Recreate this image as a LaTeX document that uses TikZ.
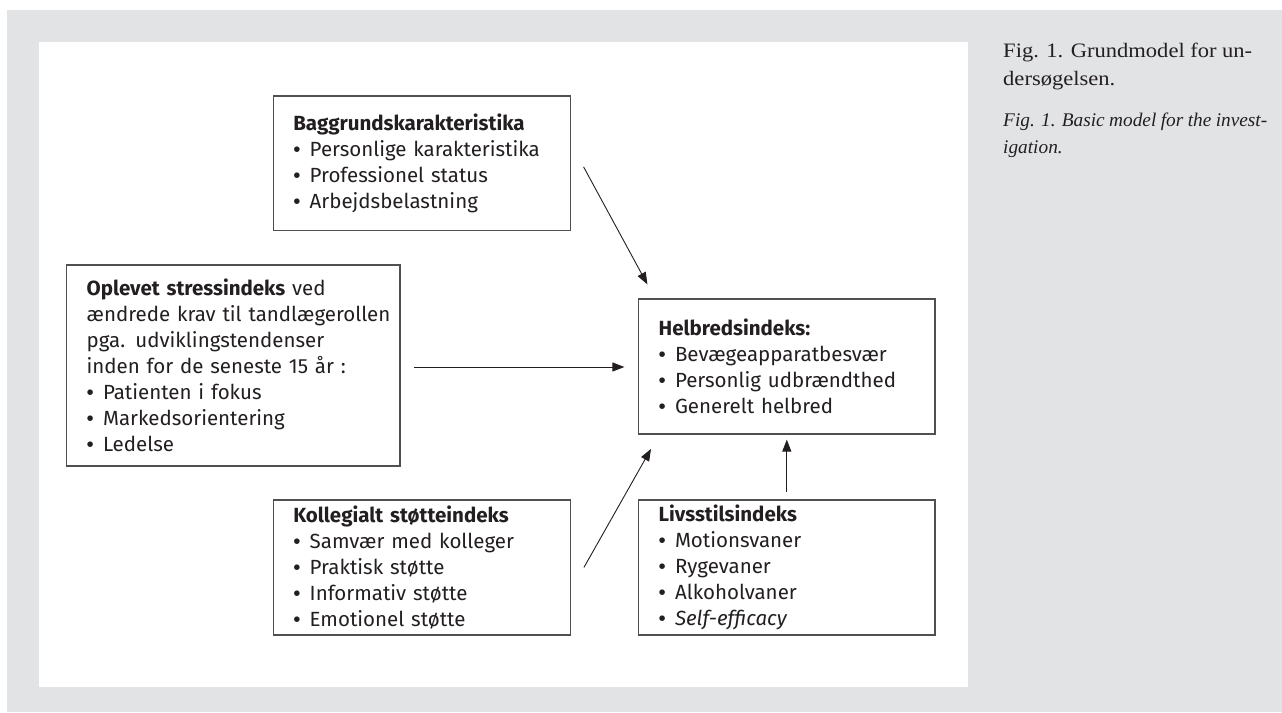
\documentclass[tikz,border=0pt]{standalone}
\usepackage{fontspec}
\setmainfont{Liberation Serif}
\newfontfamily\boxfont{Fira Sans}
\newfontfamily\bulletfont{Liberation Sans}
\newfontfamily\capfont{Liberation Serif}[FakeStretch=1.1]
\newfontfamily\capitfont{Liberation Serif}
\newcommand\mybul{{\bulletfont •}\hspace{0.45em}}
\usetikzlibrary{arrows.meta,calc}
\definecolor{bggray}{RGB}{226,227,229}
\definecolor{ink}{RGB}{35,31,32}
\definecolor{edgegray}{RGB}{80,80,80}
\begin{document}
\begin{tikzpicture}[x=1pt,y=-1pt,
  box/.style={draw=edgegray, line width=1.2pt, fill=white, inner xsep=20pt, inner ysep=0pt,
    align=left, text=ink, font=\boxfont\fontsize{20.5}{26}\selectfont},
  arr/.style={draw=ink, line width=0.9pt, -{Triangle[length=12pt,width=9pt]}},
  captext/.style={anchor=base west, inner sep=0pt, text=ink, font=\capfont\fontsize{20.5}{28}\selectfont},
  capital/.style={captext, font=\capitfont\fontsize{19.3}{28}\selectfont\itshape}
]
\useasboundingbox (0,0) rectangle (1282,712);
\fill[bggray] (7,10) rectangle (1282,712);
\fill[white] (39,42) rectangle (968,687);

\node[box, text width=257.4pt, minimum height=134.7pt] (bag) at (422,163.4)
  {\textbf{Baggrundskarakteristika}\\\mybul Personlige karakteristika\\\mybul Professionel status\\\mybul Arbejdsbelastning};
\node[box, text width=293.3pt, minimum height=201pt] (opl) at (233.3,365.5)
  {\mbox{\textbf{Oplevet stressindeks} ved}\\\mbox{ændrede krav til tandlægerollen}\\\mbox{pga. udviklingstendenser}\\\mbox{inden for de seneste 15 år :}\\\mybul Patienten i fokus\\\mybul Markedsorientering\\\mybul Ledelse};
\node[box, text width=256.4pt, minimum height=135pt] (helb) at (786.8,366.5)
  {\textbf{Helbredsindeks:}\\\mybul Bevægeapparatbesvær\\\mybul Personlig udbrændthed\\\mybul Generelt helbred};
\node[box, text width=257.4pt, minimum height=135pt] (koll) at (422,567.5)
  {\textbf{Kollegialt støtteindeks}\\\mybul Samvær med kolleger\\\mybul Praktisk støtte\\\mybul Informativ støtte\\\mybul Emotionel støtte};
\node[box, text width=256.4pt, minimum height=135pt] (liv) at (786.8,567.5)
  {\textbf{Livsstilsindeks}\\\mybul Motionsvaner\\\mybul Rygevaner\\\mybul Alkoholvaner\\\mybul \textit{Self-efficacy}};

\draw[arr] ([xshift=12.3pt,yshift=-3.5pt]bag.east) -- ([xshift=9.4pt,yshift=14pt]helb.north west);
\draw[arr] ([xshift=13pt,yshift=-1.5pt]opl.east) -- ($(opl.east -| helb.west)+(-13.6,1.5)$);
\draw[arr] ([xshift=12.6pt]koll.east) -- ([xshift=13pt,yshift=-14.3pt]helb.south west);
\draw[arr] ([yshift=7pt]liv.north) -- ([yshift=-5pt]helb.south);

\node[captext] (capa) at (1003,57.3) {\makebox[249pt][s]{Fig. 1. Grundmodel for un-}};
\node[captext] (capb) at (1003,85.7) {dersøgelsen.};
\node[capital] (capc) at (1003,126) {\makebox[264pt][s]{Fig. 1. Basic model for the invest-}};
\node[capital] (capd) at (1003,153.3) {igation.};
\end{tikzpicture}
\end{document}
